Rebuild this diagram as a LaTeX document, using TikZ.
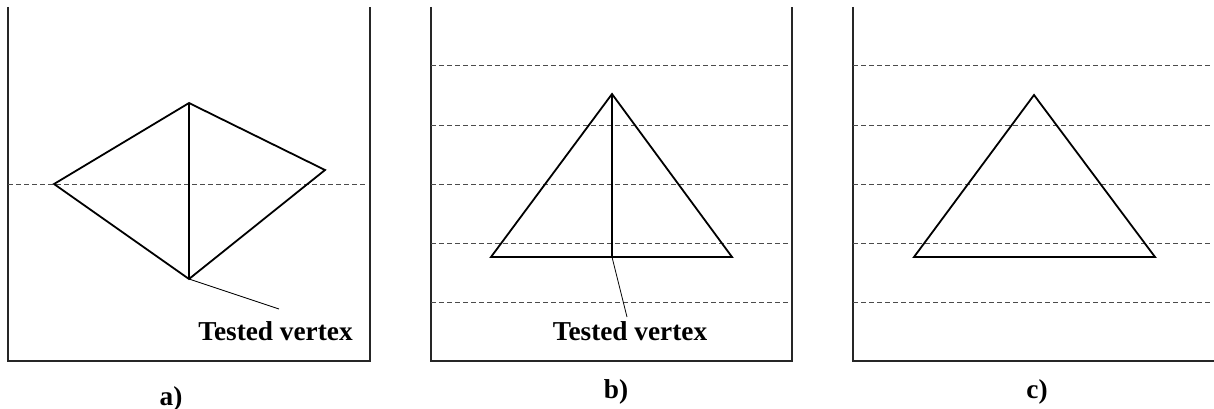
\documentclass[tikz,border=0pt]{standalone}
\usepackage{fontspec}
\setmainfont{Liberation Serif}
\begin{document}
\begin{tikzpicture}[x=1pt,y=-1pt,
  frame/.style={line width=1.3pt,color=black!85},
  grid/.style={line width=1pt,color=black!70,dash pattern=on 5pt off 3pt},
  edge/.style={line width=1.8pt,line join=miter},
  leader/.style={line width=0.8pt},
  lbl/.style={font=\bfseries\fontsize{27.3}{31}\selectfont,inner sep=0pt,anchor=base}]
\useasboundingbox (0,0) rectangle (1214,409);
% panel a
\draw[frame] (8,7) -- (8,361) -- (370,361) -- (370,7);
\draw[grid] (8,184) -- (367,184);
\coordinate (al) at (54,184);
\coordinate (at) at (189,103);
\coordinate (ar) at (325,170);
\coordinate (ab) at (189,279);
\draw[edge] (al) -- (at) -- (ar) -- (ab) -- cycle;
\draw[edge] (at) -- (ab);
\node[lbl] (ta) at (275.5,340) {Tested vertex};
\coordinate (ae) at (279,309);
\draw[leader] (ab) -- (ae);
\node[lbl] (la) at (171,405) {a)};
% panel b
\draw[frame] (431,7) -- (431,361) -- (792,361) -- (792,7);
\foreach \y in {66,125,184,243,302} \draw[grid] (431,\y) -- (788,\y);
\coordinate (bt) at (612,94);
\coordinate (bl) at (491,257);
\coordinate (br) at (732,257);
\coordinate (bb) at (612,257);
\draw[edge] (bl) -- (bt) -- (br) -- cycle;
\draw[edge] (bt) -- (bb);
\node[lbl] (tb) at (630,340) {Tested vertex};
\coordinate (be) at (627,317);
\draw[leader] (bb) -- (be);
\node[lbl] (lb) at (616,398) {b)};
% panel c
\draw[frame] (853,7) -- (853,361) -- (1214,361);
\foreach \y in {66,125,184,243,302} \draw[grid] (853,\y) -- (1212,\y);
\coordinate (ct) at (1034,95);
\coordinate (cl) at (914,257);
\coordinate (cr) at (1155,257);
\draw[edge] (cl) -- (ct) -- (cr) -- cycle;
\node[lbl] (lc) at (1037,398) {c)};
\end{tikzpicture}
\end{document}
